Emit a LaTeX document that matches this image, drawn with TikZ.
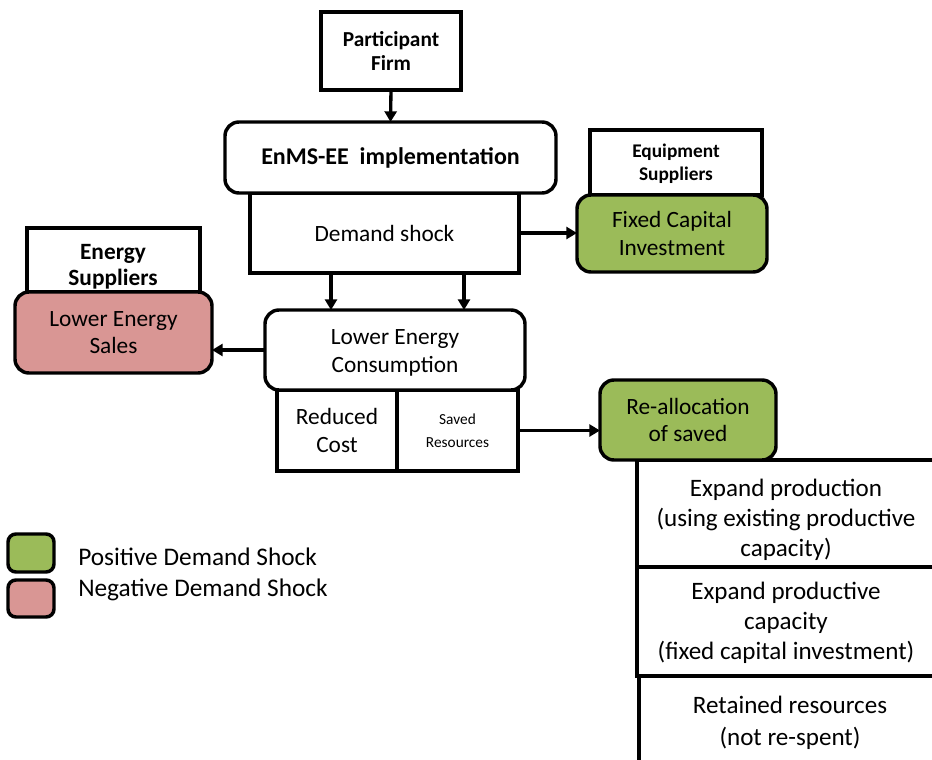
\documentclass[tikz,border=0pt]{standalone}
\usepackage{fontspec}
\setmainfont{Carlito}
\usetikzlibrary{arrows.meta}
\definecolor{posgreen}{HTML}{9BBB59}
\definecolor{negpink}{HTML}{D99694}
\begin{document}
\begin{tikzpicture}[x=0.75pt,y=-0.75pt,
  sq/.style={draw, line width=2.6pt, fill=white, anchor=north west, inner sep=0pt, outer sep=0pt, align=center, text=black},
  rnd/.style={sq, rounded corners=10.5pt},
  txt/.style={inner sep=0pt, align=center, text=black},
  reg/.style={font=\fontsize{17.5pt}{20.5pt}\selectfont},
  big/.style={font=\fontsize{18.8pt}{22.5pt}\selectfont},
  bld/.style={font=\fontsize{16pt}{18pt}\selectfont\bfseries},
  arr/.style={line width=2.5pt, -{Triangle[length=8pt,width=9pt]}},
  lbl/.style={anchor=west, inner sep=0pt, font=\fontsize{19pt}{22pt}\selectfont}]
\clip (0,0) rectangle (932,760);
\fill[white] (0,0) rectangle (932,760);

% top
\node[sq, bld, minimum width=105pt, minimum height=58.5pt] (pf) at (321,12) {Participant\\Firm};
\node[sq, reg, minimum width=201.75pt, minimum height=60pt] (ds) at (250,193) {Demand shock};
\node[rnd, minimum width=248.25pt, minimum height=53.25pt, font=\fontsize{18pt}{22pt}\selectfont\bfseries] (enms) at (225,122) {EnMS-EE\ \ implementation};

% equipment suppliers
\node[sq, minimum width=129pt, minimum height=48.75pt] (eq) at (590,130) {};
\node[txt, font=\fontsize{14.5pt}{17pt}\selectfont\bfseries] (eqt) at (676,164) {Equipment\\Suppliers};
\node[rnd, reg, fill=posgreen, minimum width=142.5pt, minimum height=57.75pt] (fci) at (577,195) {Fixed Capital\\Investment};

% energy suppliers
\node[sq, minimum width=129.75pt, minimum height=48pt] (es) at (27,228) {};
\node[txt, font=\fontsize{17.5pt}{19.5pt}\selectfont\bfseries] (est) at (113,267) {Energy\\Suppliers};
\node[rnd, reg, fill=negpink, minimum width=147.75pt, minimum height=60.75pt] (les) at (15,292) {Lower Energy\\Sales};

% lower energy consumption
\node[sq, reg, minimum width=90pt, minimum height=60.75pt] (rc) at (277,390) {Reduced\\Cost};
\node[sq, minimum width=90.75pt, minimum height=60.75pt, font=\fontsize{11.5pt}{17pt}\selectfont] (sr) at (397,390) {Saved\\Resources};
\node[rnd, minimum width=195pt, minimum height=60pt] (lec) at (265,310) {};
\node[txt, reg] (lect) at (395,353) {Lower Energy\\Consumption};

% re-allocation
\node[sq, minimum width=223.5pt, minimum height=80.25pt] (r1) at (637,460) {};
\node[sq, minimum width=223.5pt, minimum height=81.75pt] (r2) at (637,567) {};
\node[sq, minimum width=223.5pt, minimum height=75pt] (r3) at (639,676) {};
\node[txt, big] (r1t) at (786,520) {Expand production\\(using existing productive\\capacity)};
\node[txt, big] (r2t) at (786,623) {Expand productive\\capacity\\(fixed capital investment)};
\node[txt, font=\fontsize{18.8pt}{24pt}\selectfont] (r3t) at (790,723) {Retained resources\\(not re-spent)};
\node[rnd, reg, fill=posgreen, minimum width=132pt, minimum height=60pt] (ra) at (600,380) {Re-allocation\\of saved};

% legend
\node[rnd, fill=posgreen, rounded corners=6pt, minimum width=34.5pt, minimum height=28.5pt] (lgp) at (8,534) {};
\node[rnd, fill=negpink, rounded corners=6pt, minimum width=34.5pt, minimum height=27.75pt] (lgn) at (8,580) {};
\node[lbl] (lgpt) at (78,557) {Positive Demand Shock};
\node[lbl] (lgnt) at (78,590) {Negative Demand Shock};

% connectors
\coordinate (xa) at (331,0);
\coordinate (xb) at (464,0);
\draw[arr] (pf.south) -- (enms.north);
\draw[arr] (ds.east) -- (ds.east -| fci.west);
\draw[arr] (ds.south -| xa) -- (lec.north -| xa);
\draw[arr] (ds.south -| xb) -- (lec.north -| xb);
\draw[arr] (lec.west) -- (lec.west -| les.east);
\draw[arr] (sr.east) -- (sr.east -| ra.west);
\end{tikzpicture}
\end{document}
